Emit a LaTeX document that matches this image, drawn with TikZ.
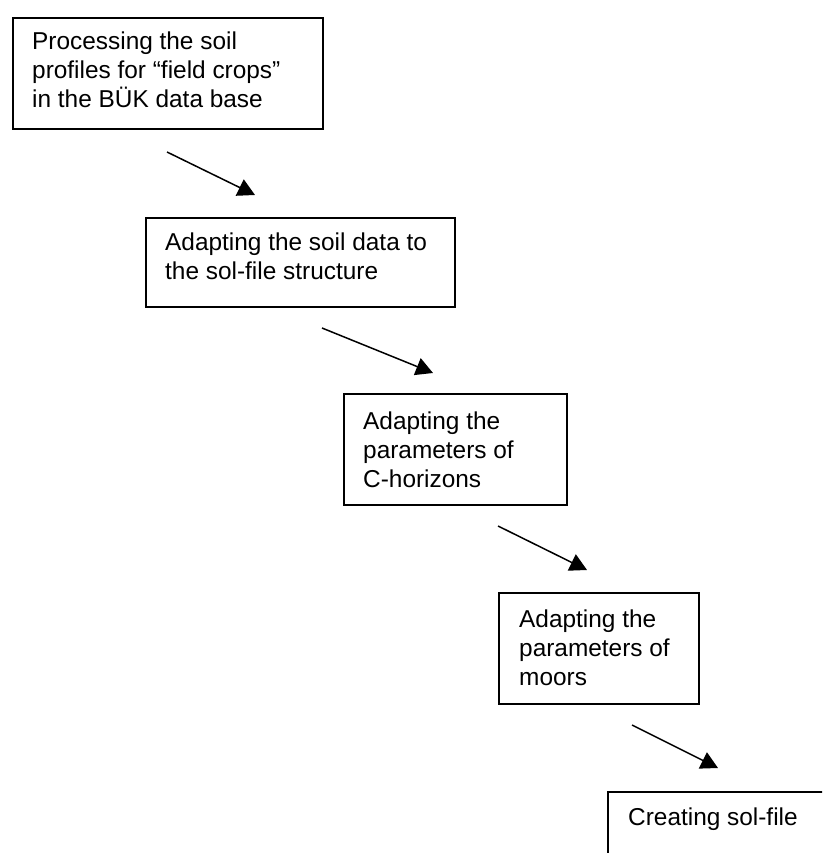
\documentclass[tikz,border=0pt]{standalone}
\usepackage{fontspec}
\setmainfont{Liberation Sans}
\usetikzlibrary{arrows.meta}

\begin{document}
\begin{tikzpicture}[x=1pt, y=-1pt,
  stepbox/.style={draw=black, line width=1.8pt, inner sep=0pt, anchor=north west},
  steptext/.style={inner sep=0pt, anchor=north west, align=left,
    font=\fontsize{24.4}{28.6}\selectfont},
  flow/.style={draw=black, line width=1.5pt, -{Triangle[length=17pt, width=18pt]}}]
  \useasboundingbox (0,0) rectangle (822,853);
  \clip (0,0) rectangle (822,853);

  % process boxes
  \node[stepbox, minimum width=310pt, minimum height=111pt] (b1) at (12,17) {};
  \node[stepbox, minimum width=309pt, minimum height=89pt]  (b2) at (145,217) {};
  \node[stepbox, minimum width=223pt, minimum height=111pt] (b3) at (343,393) {};
  \node[stepbox, minimum width=200pt, minimum height=111pt] (b4) at (498,592) {};
  \node[stepbox, minimum width=260pt, minimum height=120pt] (b5) at (607,791) {};

  % box texts
  \node[steptext] (t1) at (32,32)   {Processing the soil\\profiles for “field crops”\\in the BÜK data base};
  \node[steptext] (t2) at (165,233) {Adapting the soil data to\\the sol-file structure};
  \node[steptext] (t3) at (363,412) {Adapting the\\parameters of\\C-horizons};
  \node[steptext] (t4) at (519,610) {Adapting the\\parameters of\\moors};
  \node[steptext] (t5) at (628,808) {Creating sol-file};

  % free-standing arrows between the steps
  \coordinate (s1) at (167,152); \coordinate (e1) at (255,195);
  \coordinate (s2) at (322,328); \coordinate (e2) at (433,373);
  \coordinate (s3) at (498,526); \coordinate (e3) at (587,570);
  \coordinate (s4) at (632,725); \coordinate (e4) at (718,768);
  \draw[flow] (s1) -- (e1);
  \draw[flow] (s2) -- (e2);
  \draw[flow] (s3) -- (e3);
  \draw[flow] (s4) -- (e4);
\end{tikzpicture}
\end{document}
